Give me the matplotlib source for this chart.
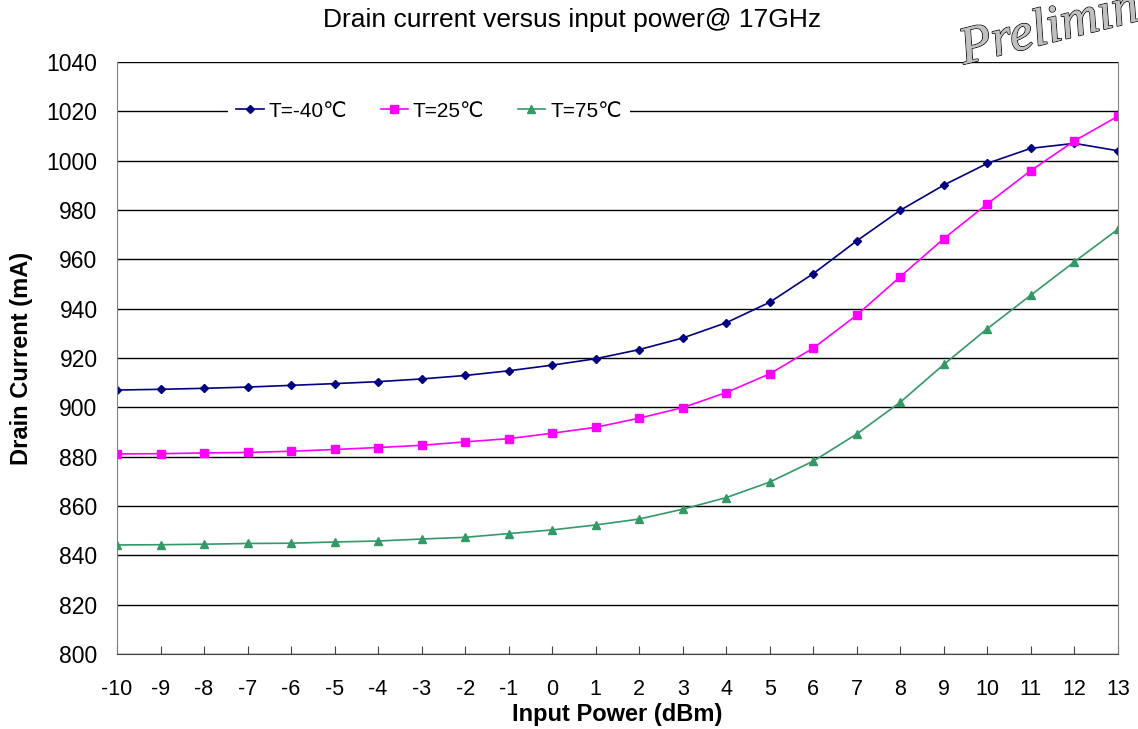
import numpy as np
import matplotlib.pyplot as plt
import matplotlib.patheffects as pe

plt.rcParams['font.family'] = ['Liberation Sans', 'DejaVu Sans']
plt.rcParams['axes.unicode_minus'] = False

# input power (dBm)
pin = np.arange(-10, 14)

# drain current (mA)
id_m40 = [907.0, 907.3, 907.7, 908.2, 908.9, 909.6, 910.4, 911.5, 912.9, 914.8,
          917.1, 919.7, 923.4, 928.1, 934.3, 942.6, 954.2, 967.5, 979.9, 990.1,
          998.9, 1005.0, 1007.0, 1004.0]
id_25 = [881.1, 881.2, 881.5, 881.7, 882.2, 882.9, 883.7, 884.6, 886.0, 887.3,
         889.5, 891.9, 895.6, 899.9, 906.0, 913.6, 924.0, 937.4, 953.0, 968.4,
         982.5, 996.0, 1008.0, 1018.0]
id_75 = [844.2, 844.3, 844.5, 844.8, 844.9, 845.4, 845.8, 846.6, 847.3, 848.8,
         850.3, 852.3, 854.7, 858.7, 863.4, 869.7, 878.2, 889.2, 902.1, 917.4,
         931.9, 945.5, 959.0, 972.2]
labels = ['T=-40\u2103', 'T=25\u2103', 'T=75\u2103']

fig = plt.figure(figsize=(11.38, 7.29), dpi=100)
ax = fig.add_axes([0.1028, 0.1029, 0.8796, 0.8121])

ax.plot(pin, id_m40, color='#000080', lw=1.2, marker='D', ms=4.5, label=labels[0])
ax.plot(pin, id_25, color='#FF00FF', lw=1.2, marker='s', ms=6, label=labels[1])
ax.plot(pin, id_75, color='#339966', lw=1.2, marker='^', ms=6, label=labels[2])

ax.set_xlim(-10, 13)
ax.set_ylim(800, 1040)
ax.set_xticks(pin)
ax.set_yticks(np.arange(800, 1041, 20))
ax.grid(axis='y', color='black', lw=1.0)
ax.set_axisbelow(True)
ax.tick_params(axis='x', direction='in', length=6, labelsize=15.5, pad=18, color='#444444')
ax.tick_params(axis='y', length=0, labelsize=16.5, pad=14)
for s in ['left', 'right']:
    ax.spines[s].set_color('#808080')
ax.spines['top'].set_visible(False)
ax.spines['bottom'].set_color('#444444')

ax.set_xlabel('Input Power (dBm)', fontsize=17, fontweight='bold', labelpad=2)
ax.set_ylabel('Drain Current (mA)', fontsize=17, fontweight='bold', labelpad=10)

leg = ax.legend(loc='center left', bbox_to_anchor=(0.111, 0.917), ncol=3, frameon=True,
                fontsize=15, handlelength=1.3, handletextpad=0.25, columnspacing=1.6,
                borderpad=0.4, borderaxespad=0, fancybox=False)
leg.get_frame().set_edgecolor('none')
leg.get_frame().set_facecolor('white')
leg.get_frame().set_alpha(1)

fig.text(0.503, 0.972, 'Drain current versus input power@ 17GHz', ha='center', va='center', fontsize=19)

fig.text(0.847, 0.912, 'Preliminary', fontsize=38, family='Liberation Serif', style='italic',
         rotation=14, rotation_mode='anchor', ha='left', va='baseline', color='#C0C0C0',
         path_effects=[pe.withStroke(linewidth=1.2, foreground='black'), pe.Normal()])

fig.savefig('out.png', dpi=100)
